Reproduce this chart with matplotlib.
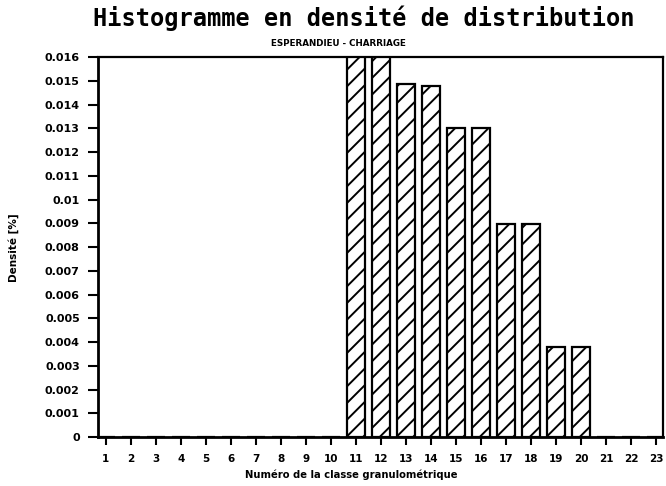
import matplotlib
matplotlib.use("Agg")
import matplotlib.pyplot as plt

# Granulometric class numbers and density of each class
classes = list(range(1, 24))
density = [0, 0, 0, 0, 0, 0, 0, 0, 0, 0,
           0.0168, 0.0164, 0.01485, 0.01478, 0.0130, 0.0130,
           0.00895, 0.00895, 0.00378, 0.00378, 0, 0, 0]
y_ticks = [i / 1000 for i in range(0, 17)]
y_tick_labels = ["0"] + ["%g" % v for v in y_ticks[1:]]

plt.rcParams["hatch.linewidth"] = 1.4

fig = plt.figure(figsize=(6.66, 4.86), dpi=100)
ax = fig.add_axes([0.147, 0.1008, 0.8485, 0.7819])

ax.bar(classes, density, width=0.72, color="white", edgecolor="black",
       linewidth=1.6, hatch="//")

ax.set_xlim(0.68, 23.28)
ax.set_ylim(0, 0.016)
ax.set_xticks(classes)
ax.set_xticklabels([str(c) for c in classes], fontsize=7.5, fontweight="bold")
ax.set_yticks(y_ticks)
ax.set_yticklabels(y_tick_labels, fontsize=8, fontweight="bold")
ax.tick_params(direction="out", length=7, width=1.5, pad=6)
ax.tick_params(axis="x", length=6, pad=6)

for side in ["left", "bottom"]:
    ax.spines[side].set_linewidth(2)
for side in ["top", "right"]:
    ax.spines[side].set_linewidth(1.6)

fig.text(0.527, 0.012, "Numéro de la classe granulométrique", ha="center",
         va="bottom", fontsize=7.2, fontweight="bold")
fig.text(0.02, 0.49, "Densité [%]", ha="center", va="center",
         rotation=90, fontsize=7.5, fontweight="bold")

fig.text(0.546, 0.962, "Histogramme en densité de distribution",
         ha="center", va="center", fontsize=17, fontweight="bold",
         family="DejaVu Sans Mono")
fig.text(0.508, 0.911, "ESPERANDIEU - CHARRIAGE", ha="center", va="center",
         fontsize=6.3, fontweight="bold")

fig.savefig("out.png", dpi=100)
